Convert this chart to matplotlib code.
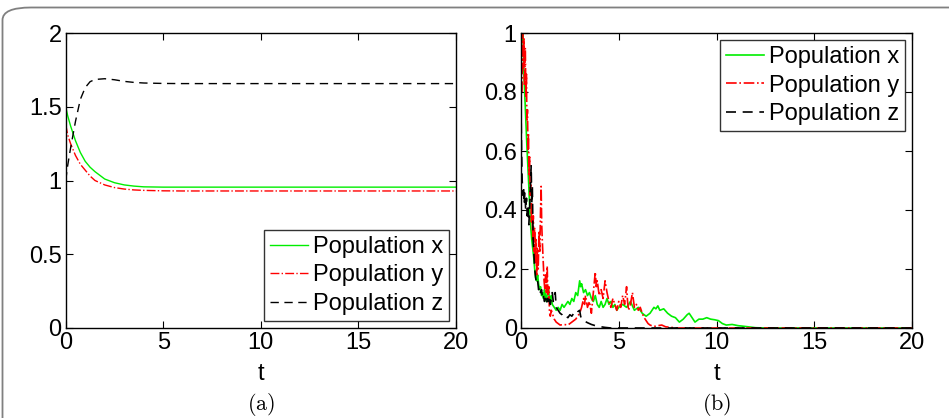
import numpy as np
import matplotlib
matplotlib.use("Agg")
import matplotlib.pyplot as plt
from matplotlib.patches import FancyBboxPatch

plt.rcParams['font.family'] = ['Liberation Sans', 'DejaVu Sans']
plt.rcParams['mathtext.fontset'] = 'cm'

# (a) deterministic solution
t_det = [0, 0.1, 0.25, 0.5, 0.75, 1.0, 1.25, 1.5, 2.0, 2.5, 3.0, 3.5, 4.0, 5.0, 6.0, 8.0, 10.0, 15.0, 20.0]
x_det = [1.5, 1.44, 1.37, 1.27, 1.19, 1.13, 1.09, 1.06, 1.01, 0.985, 0.97, 0.962, 0.957, 0.955, 0.955, 0.955, 0.955, 0.955, 0.955]
y_det = [1.38, 1.31, 1.25, 1.17, 1.11, 1.07, 1.03, 1.00, 0.97, 0.952, 0.942, 0.936, 0.933, 0.930, 0.929, 0.929, 0.929, 0.929, 0.929]
z_det = [1.0, 1.1, 1.22, 1.40, 1.55, 1.63, 1.67, 1.685, 1.69, 1.683, 1.672, 1.665, 1.661, 1.658, 1.657, 1.657, 1.657, 1.657, 1.657]

# (b) stochastic sample path
t_x = [0.00, 0.05, 0.10, 0.15, 0.20, 0.25, 0.30, 0.35, 0.40, 0.45, 0.50, 0.55, 0.60, 0.65, 0.70, 0.75,
       0.80, 0.85, 0.90, 0.95, 1.00, 1.05, 1.10, 1.15, 1.20, 1.25, 1.30, 1.35, 1.40, 1.45, 1.50, 1.55,
       1.60, 1.70, 1.80, 1.90, 2.00, 2.10, 2.20, 2.30, 2.40, 2.50, 2.60, 2.70, 2.80, 2.90, 3.00, 3.05,
       3.10, 3.20, 3.30, 3.40, 3.50, 3.60, 3.70, 3.80, 3.90, 4.00, 4.10, 4.20, 4.30, 4.40, 4.50, 4.60,
       4.70, 4.80, 4.90, 5.00, 5.20, 5.40, 5.60, 5.80, 6.00, 6.20, 6.40, 6.60, 6.80, 6.90, 7.00, 7.10,
       7.30, 7.50, 7.70, 7.90, 8.10, 8.30, 8.50, 8.60, 8.70, 8.90, 9.10, 9.30, 9.50, 9.70, 9.90, 10.10,
       10.30, 10.50, 10.80, 11.10, 11.50, 12.00, 12.50, 20.00]
x_sto = [1.00, 0.97, 1.00, 0.86, 0.78, 0.70, 0.62, 0.55, 0.48, 0.40, 0.34, 0.30, 0.27, 0.24, 0.20, 0.17,
         0.16, 0.18, 0.15, 0.13, 0.14, 0.11, 0.12, 0.10, 0.13, 0.11, 0.09, 0.12, 0.14, 0.10, 0.09, 0.11,
         0.08, 0.07, 0.06, 0.07, 0.06, 0.08, 0.07, 0.08, 0.09, 0.08, 0.10, 0.09, 0.12, 0.11, 0.16, 0.14,
         0.15, 0.12, 0.13, 0.11, 0.12, 0.10, 0.09, 0.11, 0.08, 0.07, 0.09, 0.07, 0.08, 0.10, 0.08, 0.09,
         0.07, 0.08, 0.06, 0.07, 0.08, 0.07, 0.09, 0.06, 0.07, 0.05, 0.04, 0.05, 0.07, 0.065, 0.075, 0.06,
         0.065, 0.05, 0.04, 0.035, 0.02, 0.03, 0.045, 0.05, 0.04, 0.02, 0.03, 0.03, 0.035, 0.03, 0.028, 0.025,
         0.015, 0.01, 0.012, 0.008, 0.005, 0.001, 0.0, 0.0]

t_y = [0.05, 0.08, 0.12, 0.15, 0.18, 0.22, 0.25, 0.28, 0.30, 0.33, 0.36, 0.38, 0.41, 0.44, 0.47, 0.50,
       0.53, 0.56, 0.60, 0.63, 0.66, 0.70, 0.73, 0.76, 0.80, 0.84, 0.88, 0.92, 0.96, 1.00, 1.03, 1.06,
       1.10, 1.14, 1.18, 1.22, 1.26, 1.30, 1.34, 1.38, 1.42, 1.46, 1.50, 1.55, 1.60, 1.70, 1.80, 1.90,
       2.00, 2.20, 2.40, 2.60, 2.80, 2.90, 3.00, 3.10, 3.20, 3.25, 3.30, 3.40, 3.50, 3.60, 3.70, 3.80,
       3.85, 3.90, 4.00, 4.10, 4.20, 4.30, 4.40, 4.50, 4.60, 4.70, 4.80, 4.90, 5.00, 5.10, 5.20, 5.30,
       5.40, 5.45, 5.50, 5.60, 5.70, 5.80, 5.90, 6.00, 6.10, 6.20, 6.30, 6.40, 6.50, 6.60, 6.80, 7.00,
       7.20, 7.40, 7.70, 8.00, 20.0]
y_sto = [0.80, 1.00, 0.88, 0.98, 0.82, 0.95, 0.78, 0.86, 0.70, 0.74, 0.60, 0.66, 0.52, 0.58, 0.45, 0.49,
         0.36, 0.42, 0.30, 0.38, 0.26, 0.34, 0.22, 0.30, 0.18, 0.27, 0.20, 0.33, 0.26, 0.40, 0.48, 0.35,
         0.28, 0.22, 0.16, 0.13, 0.18, 0.12, 0.21, 0.10, 0.14, 0.05, 0.04, 0.06, 0.05, 0.03, 0.02, 0.015,
         0.01, 0.012, 0.01, 0.02, 0.03, 0.04, 0.05, 0.07, 0.10, 0.08, 0.11, 0.07, 0.09, 0.05, 0.12, 0.19,
         0.14, 0.16, 0.11, 0.13, 0.10, 0.16, 0.12, 0.09, 0.07, 0.10, 0.08, 0.06, 0.09, 0.07, 0.11, 0.08,
         0.14, 0.09, 0.06, 0.08, 0.12, 0.07, 0.08, 0.06, 0.07, 0.05, 0.035, 0.025, 0.015, 0.01, 0.005, 0.008,
         0.01, 0.004, 0.002, 0.0, 0.0]

t_z = [0.00, 0.03, 0.06, 0.10, 0.13, 0.16, 0.20, 0.24, 0.28, 0.32, 0.36, 0.40, 0.44, 0.48, 0.52, 0.55,
       0.58, 0.62, 0.66, 0.70, 0.75, 0.80, 0.85, 0.90, 0.95, 1.00, 1.05, 1.10, 1.15, 1.20, 1.25, 1.30,
       1.35, 1.40, 1.45, 1.50, 1.55, 1.60, 1.65, 1.70, 1.75, 1.80, 1.90, 2.00, 2.10, 2.20, 2.30, 2.40,
       2.50, 2.60, 2.70, 2.80, 2.90, 3.00, 3.05, 3.10, 3.20, 3.40, 3.60, 3.80, 4.00, 4.30, 4.60, 20.0]
z_sto = [0.75, 0.60, 0.50, 0.45, 0.48, 0.42, 0.46, 0.40, 0.44, 0.38, 0.41, 0.35, 0.40, 0.47, 0.55, 0.42,
         0.48, 0.30, 0.25, 0.20, 0.17, 0.15, 0.16, 0.13, 0.14, 0.12, 0.13, 0.10, 0.11, 0.09, 0.10, 0.08,
         0.10, 0.09, 0.11, 0.08, 0.10, 0.12, 0.09, 0.11, 0.12, 0.07, 0.06, 0.05, 0.045, 0.035, 0.04, 0.035,
         0.045, 0.04, 0.05, 0.045, 0.055, 0.06, 0.04, 0.03, 0.025, 0.018, 0.012, 0.008, 0.005, 0.002, 0.0, 0.0]

labels = ['Population x', 'Population y', 'Population z']
FS = 17

fig = plt.figure(figsize=(9.49, 4.18), dpi=100)
# rounded border around the whole figure
fig.patches.append(FancyBboxPatch((2.5 / 949, -0.2), 1.2, 1.2 - 7.5 / 418,
                                  boxstyle="round,pad=0,rounding_size=0.03",
                                  transform=fig.transFigure, fill=False,
                                  edgecolor='#808080', linewidth=1.3, clip_on=False))

ax1 = fig.add_axes([65.7 / 949, 90 / 418, 390.3 / 949, 295 / 418])
ax2 = fig.add_axes([521 / 949, 90 / 418, 391 / 949, 295 / 418])

ax1.plot(t_det, x_det, color='#00ee00', lw=1.0, label=labels[0])
ax1.plot(t_det, y_det, color='red', lw=1.0, ls='-.', label=labels[1])
ax1.plot(t_det, z_det, color='k', lw=1.0, ls=(0, (6, 4)), label=labels[2])
ax1.set_ylim(0, 2)
ax1.set_yticks([0, 0.5, 1, 1.5, 2])
ax1.set_yticklabels(['0', '0.5', '1', '1.5', '2'])

ax2.plot(t_x, x_sto, color='#00ee00', lw=1.2, label=labels[0])
ax2.plot(t_y, y_sto, color='red', lw=1.2, ls='-.', label=labels[1])
ax2.plot(t_z, z_sto, color='k', lw=1.2, ls=(0, (6, 4)), label=labels[2])
ax2.set_ylim(0, 1)
ax2.set_yticks([0, 0.2, 0.4, 0.6, 0.8, 1])
ax2.set_yticklabels(['0', '0.2', '0.4', '0.6', '0.8', '1'])

for ax, loc, tag in [(ax1, 'lower right', 'a'), (ax2, 'upper right', 'b')]:
    ax.set_xlim(0, 20)
    ax.set_xticks([0, 5, 10, 15, 20])
    ax.tick_params(direction='in', top=True, right=True, labelsize=FS, length=5, width=0.8, pad=3)
    ax.set_xlabel('t', fontsize=FS, labelpad=6)
    for s in ax.spines.values():
        s.set_linewidth(1.0)
    leg = ax.legend(loc=loc, fontsize=FS, frameon=True, fancybox=False, edgecolor='k',
                    handlelength=1.6, handletextpad=0.2, labelspacing=0.28,
                    borderpad=0.25, borderaxespad=0.3)
    leg.get_frame().set_linewidth(1.0)
    bb = ax.get_position()
    fig.text(bb.x0 + bb.width / 2, 13 / 418, r'$(\mathrm{' + tag + r'})$', ha='center', va='center',
             fontsize=16)

fig.savefig('out.png', dpi=100)
